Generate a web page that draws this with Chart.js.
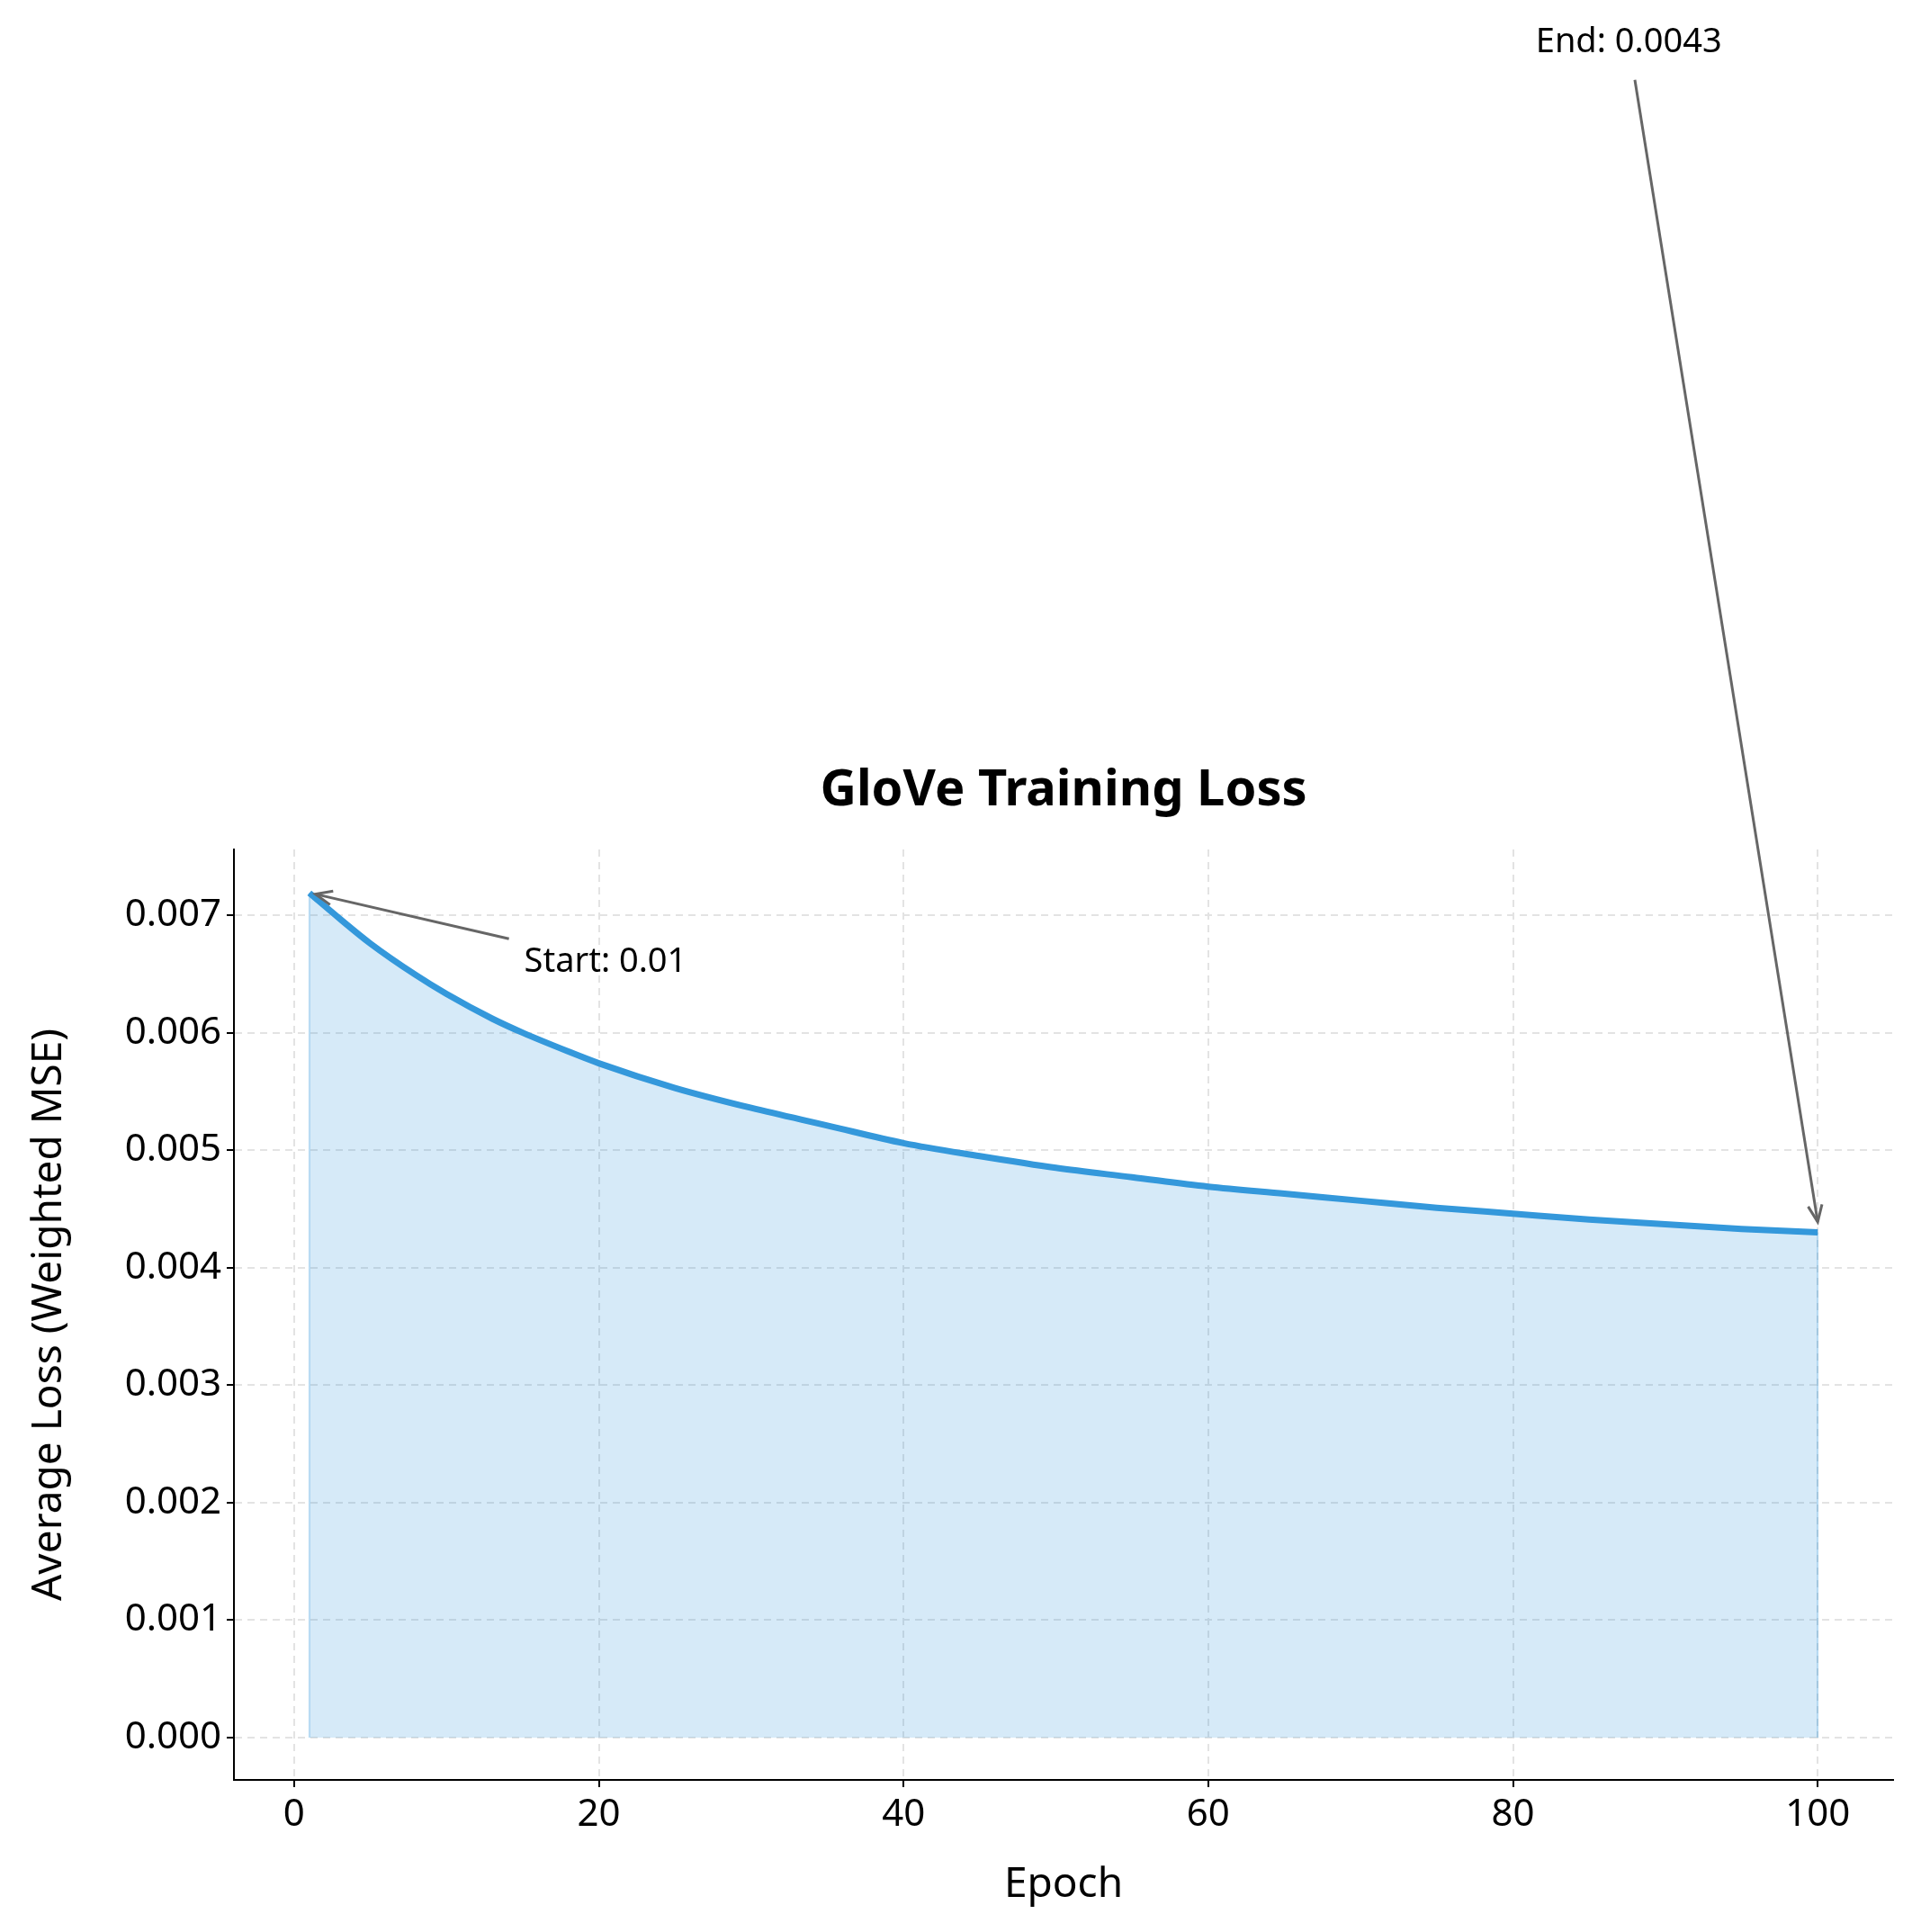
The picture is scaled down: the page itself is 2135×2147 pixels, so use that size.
<!DOCTYPE html>
<html>
<head>
<meta charset="utf-8">
<script src="https://cdn.jsdelivr.net/npm/chart.js@4/dist/chart.umd.min.js"></script>
<style>
  html, body { margin: 0; padding: 0; background: #fff; }
  canvas { display: block; }
</style>
</head>
<body>
<canvas id="lossChart" width="2135" height="2147"></canvas>
<script>
// Loss values (epoch -> average loss)
const epochs = [1, 3, 5, 8, 10, 13, 15, 18, 20, 25, 30, 35, 40, 45, 50, 55, 60, 65, 70, 75, 80, 85, 90, 95, 100];
const losses = [0.00719, 0.00697, 0.00676, 0.00649, 0.00633, 0.00612, 0.00600, 0.00584, 0.00574, 0.00553, 0.00536, 0.00521, 0.00506, 0.00495, 0.00485, 0.00477, 0.00469, 0.00463, 0.00457, 0.00451, 0.00446, 0.00441, 0.00437, 0.00433, 0.00430];
const xTicks = [0, 20, 40, 60, 80, 100];
const yTicks = [0, 0.001, 0.002, 0.003, 0.004, 0.005, 0.006, 0.007];

const FONT = '"Noto Sans", "DejaVu Sans", sans-serif';

// annotations: text anchor, arrow tail, arrow head (data coords)
const notes = [
  { text: 'Start: 0.01', tx: 15.1, ty: 0.00660, align: 'left', ax: 14.1, ay: 0.00680, hx: 1.4, hy: 0.00718 },
  { text: 'End: 0.0043', tx: 87.6, ty: 0.01443, align: 'center', ax: 88.0, ay: 0.01411, hx: 100, hy: 0.00439 }
];

const overlay = {
  id: 'overlay',
  afterDraw(chart) {
    const { ctx, scales: { x, y }, chartArea } = chart;
    ctx.save();
    // title
    ctx.fillStyle = '#000';
    ctx.font = 'bold 56px ' + FONT;
    ctx.textAlign = 'center';
    ctx.textBaseline = 'alphabetic';
    ctx.fillText('GloVe Training Loss', (chartArea.left + chartArea.right) / 2, 895);
    // axis titles
    ctx.font = '46px ' + FONT;
    ctx.fillText('Epoch', (chartArea.left + chartArea.right) / 2, 2108);
    ctx.save();
    ctx.translate(68, (chartArea.top + chartArea.bottom) / 2);
    ctx.rotate(-Math.PI / 2);
    ctx.fillText('Average Loss (Weighted MSE)', 0, 0);
    ctx.restore();
    // fill edges
    ctx.strokeStyle = 'rgba(52,152,219,0.3)';
    ctx.lineWidth = 2;
    [0, epochs.length - 1].forEach(i => {
      ctx.beginPath();
      ctx.moveTo(x.getPixelForValue(epochs[i]), y.getPixelForValue(0));
      ctx.lineTo(x.getPixelForValue(epochs[i]), y.getPixelForValue(losses[i]));
      ctx.stroke();
    });
    // annotations
    notes.forEach(n => {
      ctx.fillStyle = '#000';
      ctx.font = '38px ' + FONT;
      ctx.textAlign = n.align;
      ctx.textBaseline = 'middle';
      ctx.fillText(n.text, x.getPixelForValue(n.tx), y.getPixelForValue(n.ty));
      const ax = x.getPixelForValue(n.ax), ay = y.getPixelForValue(n.ay);
      const hx = x.getPixelForValue(n.hx), hy = y.getPixelForValue(n.hy);
      ctx.strokeStyle = '#666';
      ctx.lineWidth = 3;
      ctx.beginPath();
      ctx.moveTo(ax, ay);
      ctx.lineTo(hx, hy);
      ctx.stroke();
      const ang = Math.atan2(hy - ay, hx - ax);
      ctx.beginPath();
      ctx.moveTo(hx - 20 * Math.cos(ang - 0.4), hy - 20 * Math.sin(ang - 0.4));
      ctx.lineTo(hx, hy);
      ctx.lineTo(hx - 20 * Math.cos(ang + 0.4), hy - 20 * Math.sin(ang + 0.4));
      ctx.stroke();
    });
    ctx.restore();
  }
};

new Chart(document.getElementById('lossChart').getContext('2d'), {
  type: 'line',
  data: {
    datasets: [{
      data: epochs.map((e, i) => ({ x: e, y: losses[i] })),
      borderColor: '#3498db',
      backgroundColor: 'rgba(52,152,219,0.2)',
      borderWidth: 7,
      fill: 'origin',
      cubicInterpolationMode: 'monotone',
      pointRadius: 0
    }]
  },
  options: {
    responsive: false,
    animation: false,
    devicePixelRatio: 1,
    layout: { padding: { top: 944, right: 31, left: 0, bottom: 0 } },
    plugins: { legend: { display: false }, tooltip: { enabled: false } },
    scales: {
      x: {
        type: 'linear', min: -3.95, max: 104.95,
        afterBuildTicks: s => { s.ticks = xTicks.map(v => ({ value: v })); },
        afterFit: s => { s.height = 169; },
        ticks: { color: '#000', font: { size: 42, family: FONT }, padding: 6, maxRotation: 0 },
        grid: { color: '#e3e3e3', lineWidth: 2, tickLength: 8, tickColor: '#000' },
        border: { display: true, color: '#000', width: 2, dash: [8, 6] }
      },
      y: {
        type: 'linear', min: -0.00036, max: 0.00756,
        afterBuildTicks: s => { s.ticks = yTicks.map(v => ({ value: v })); },
        afterFit: s => { s.width = 260; },
        ticks: { color: '#000', font: { size: 42, family: FONT }, padding: 6, callback: v => v.toFixed(3) },
        grid: { color: '#e3e3e3', lineWidth: 2, tickLength: 8, tickColor: '#000' },
        border: { display: true, color: '#000', width: 2, dash: [8, 6] }
      }
    }
  },
  plugins: [overlay]
});
</script>
</body>
</html>
